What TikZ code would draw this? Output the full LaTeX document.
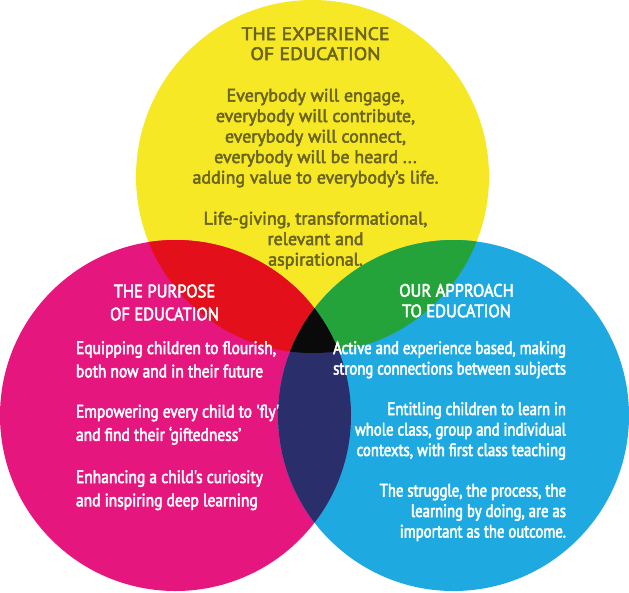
\documentclass[tikz,border=0pt]{standalone}
\usepackage{fontspec}
\newfontfamily\yfont[FakeStretch=1.0,FakeBold=2.8]{PT Sans}
\newfontfamily\ytfont[FakeStretch=1.1,FakeBold=2.8]{PT Sans}
\newfontfamily\pfont[FakeStretch=0.86,FakeBold=2.8,Ligatures=TeXOff]{PT Sans}
\newfontfamily\cfont[FakeStretch=0.82,FakeBold=2.8]{PT Sans}
\newfontfamily\tfont[FakeStretch=0.92,FakeBold=2.8]{PT Sans}
\definecolor{cyel}{HTML}{F6E824}
\definecolor{cmag}{HTML}{E5177F}
\definecolor{ccya}{HTML}{1FA9E1}
\definecolor{cred}{HTML}{E30F1A}
\definecolor{cgrn}{HTML}{23A33A}
\definecolor{cnav}{HTML}{2A2E6B}
\definecolor{cblk}{HTML}{0A0A0A}
\definecolor{olive}{HTML}{6B6420}
\tikzset{
  txt/.style={inner sep=0pt, outer sep=0pt},
  ytxt/.style={txt, text=olive, font=\yfont\fontsize{18}{20.5}\selectfont},
  yttxt/.style={txt, text=olive, font=\ytfont\fontsize{18}{20}\selectfont},
  ptxt/.style={txt, text=white, font=\pfont\fontsize{18}{23.3}\selectfont},
  pttxt/.style={txt, text=white, font=\tfont\fontsize{18}{23}\selectfont},
  ctxt/.style={txt, text=white, font=\cfont\fontsize{18}{20.5}\selectfont},
  cttxt/.style={txt, text=white, font=\tfont\fontsize{18}{20.5}\selectfont},
}
\newcommand\ycirc{(312.5,176.5) circle[radius=176.5pt]}
\newcommand\mcirc{(175.5,415.5) circle[radius=175.5pt]}
\newcommand\ccirc{(453.5,415.5) circle[radius=175.5pt]}
\begin{document}
\begin{tikzpicture}[x=1pt,y=-1pt]
\useasboundingbox (0,0) rectangle (629,592);
\fill[cyel] \ycirc;
\fill[cmag] \mcirc;
\fill[ccya] \ccirc;
\begin{scope}\clip \ycirc; \fill[cred] \mcirc; \end{scope}
\begin{scope}\clip \ycirc; \fill[cgrn] \ccirc; \end{scope}
\begin{scope}\clip \mcirc; \fill[cnav] \ccirc; \end{scope}
\begin{scope}\clip \ycirc; \clip \mcirc; \fill[cblk] \ccirc; \end{scope}
% yellow texts
\node[yttxt, anchor=base] (ytitle) at (315.5,40) {\begin{tabular}[t]{@{}c@{}}THE EXPERIENCE\\OF EDUCATION\end{tabular}};
\node[ytxt, anchor=base] (ybody) at (315.5,101.5) {\begin{tabular}[t]{@{}c@{}}Everybody will engage,\\everybody will contribute,\\everybody will connect,\\everybody will be heard ...\\adding value to everybody’s life.\end{tabular}};
\node[ytxt, anchor=base] (ybody2) at (315.5,224.5) {\begin{tabular}[t]{@{}c@{}}Life-giving, transformational,\\relevant and\\aspirational.\end{tabular}};
% magenta texts
\node[pttxt, anchor=base] (ptitle) at (164.5,297.3) {\begin{tabular}[t]{@{}c@{}}THE PURPOSE\\OF EDUCATION\end{tabular}};
\node[ptxt, anchor=base west] (p1) at (76,354) {\begin{tabular}[t]{@{}l@{}}Equipping children to flourish,\\both now and in their future\end{tabular}};
\node[ptxt, anchor=base west] (p2) at (76,417.5) {\begin{tabular}[t]{@{}l@{}}Empowering every child to 'fly'\\and find their ‘giftedness’\end{tabular}};
\node[ptxt, anchor=base west] (p3) at (76,483) {\begin{tabular}[t]{@{}l@{}}Enhancing a child's curiosity\\and inspiring deep learning\end{tabular}};
% cyan texts
\node[cttxt, anchor=base] (ctitle) at (456.5,296.7) {\begin{tabular}[t]{@{}c@{}}OUR APPROACH\\TO EDUCATION\end{tabular}};
\node[ctxt, anchor=base east] (c1) at (566,354) {\begin{tabular}[t]{@{}r@{}}Active and experience based, making\\strong connections between subjects\end{tabular}};
\node[ctxt, anchor=base east] (c2) at (566,415) {\begin{tabular}[t]{@{}r@{}}Entitling children to learn in\\whole class, group and individual\\contexts, with first class teaching\hspace{4pt}\end{tabular}};
\node[ctxt, anchor=base east] (c3) at (566,496.5) {\begin{tabular}[t]{@{}r@{}}The struggle, the process, the\\learning by doing, are as\\important as the outcome.\end{tabular}};
\end{tikzpicture}
\end{document}
